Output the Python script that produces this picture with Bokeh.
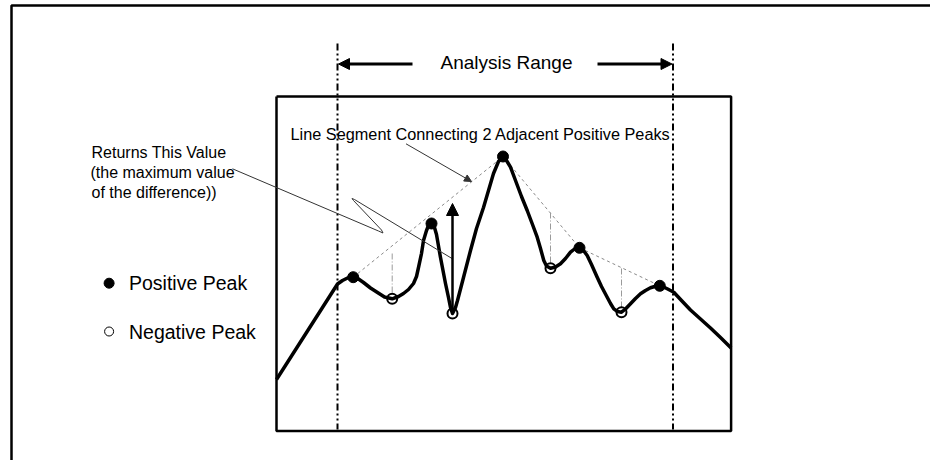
from bokeh.plotting import figure
from bokeh.models import Range1d, Arrow, NormalHead
from bokeh.core.properties import value
from bokeh.embed import file_html
from bokeh.resources import INLINE

# ---- data (diagram coordinates, y grows downward) ----
curve_x = [276, 337, 342, 347, 352.7, 358, 363, 370, 377, 384, 391.7, 398, 403, 408, 413, 416, 418,
           421, 423, 426, 428, 431, 434, 436, 440, 445, 448, 450, 452, 455, 457, 463, 470, 476, 483,
           488, 493, 498, 502.5, 506, 510, 515, 521, 526.7, 532, 536.7, 540, 543.3, 546, 550, 555,
           560, 565, 570, 574, 579, 583, 586.7, 591, 596.7, 601, 606.7, 610, 613.3, 617, 621, 625,
           630, 635, 640, 645, 650, 655, 659.3, 663, 666.7, 673.3, 681, 690, 700, 710, 720, 730.6]
curve_y = [379, 283.5, 280, 277.5, 276.7, 278.5, 282, 287.5, 292, 296.5, 298.3, 296, 293, 289, 283,
           276, 267, 253, 240, 230, 225, 223, 227, 234, 257, 283, 297, 307, 313, 307, 300, 277, 250,
           228, 207, 190, 173, 161, 156, 160, 166.7, 180, 196, 210, 224, 236.7, 248, 260, 265.5,
           267.7, 266.5, 263.3, 258, 251.7, 248.5, 247.3, 250, 255, 264, 276.7, 286, 296.7, 303,
           308.3, 311, 311.7, 308.5, 303.3, 298, 293.3, 290, 287.3, 285.8, 285.3, 286.5, 288.3,
           291.7, 300, 309.5, 318.5, 327.5, 337, 347.5]

peak_x = [352.7, 431, 502.5, 579, 659.3]
peak_y = [276.7, 223, 156, 247.3, 285.3]
valley_x = [391.7, 452, 550, 621]
valley_y = [298.3, 313, 267.7, 311.7]

hull_x = [352.7, 502.5, 579, 659.3]
hull_y = [276.7, 156, 247.3, 285.3]

diff_x = [391.7, 550, 621]
diff_top = [253, 212, 268]
diff_bottom = [293, 263, 307]

max_diff_x = 452
max_diff_from = 313
max_diff_to = 203

range_x = [337, 672.5]
range_top = 43
range_bottom = 429
range_arrow_y = 63.5
range_arrow_inner = [412, 597]

box_left, box_right, box_top, box_bottom = 276, 730.6, 96, 430.5

leader_x = [232, 378, 382.5, 381, 353, 351.5, 354, 452]
leader_y = [168.3, 230.5, 232.5, 229.5, 200, 198, 199, 258.3]
pointer_from = (405.5, 143.3)
pointer_to = (471, 181)

texts = ["Analysis Range", "Line Segment Connecting 2 Adjacent Positive Peaks",
         "Returns This Value", "(the maximum value", "of the difference))",
         "Positive Peak", "Negative Peak"]
legend_y = [282.7, 331]

FONT = value("Liberation Sans")

p = figure(width=930, height=460, output_backend="svg", toolbar_location=None,
           x_range=Range1d(0, 930), y_range=Range1d(460, 0),
           min_border=0, background_fill_color="white", border_fill_color="white")
p.axis.visible = False
p.grid.visible = False
p.outline_line_color = None

# outer frame (only left and top visible)
p.line([11, 11, 946], [476, 5, 5], line_color="black", line_width=2.5)

# inner box
p.line([box_left, box_right, box_right, box_left, box_left],
       [box_top, box_top, box_bottom, box_bottom, box_top], line_color="black", line_width=2.5)

# analysis range dash-dot lines
p.multi_line([[range_x[0]] * 2, [range_x[1]] * 2], [[range_top, range_bottom]] * 2,
             line_color="black", line_width=2, line_dash="7 3 2 3 2 3")

# hull dashed line
p.line(hull_x, hull_y, line_color="#8a8a8a", line_width=1, line_dash="3 3")

# vertical difference lines
p.multi_line([[x, x] for x in diff_x], [[t, b] for t, b in zip(diff_top, diff_bottom)],
             line_color="#9a9a9a", line_width=1, line_dash="6 2 1 2")

# curve
p.line(curve_x, curve_y, line_color="black", line_width=3.5, line_join="round")

# markers
p.scatter(peak_x, peak_y, size=11, fill_color="black", line_color="black")
p.scatter(valley_x, valley_y, size=10, fill_color=None, line_color="black", line_width=2)

# max difference arrow
p.add_layout(Arrow(x_start=max_diff_x, y_start=max_diff_from, x_end=max_diff_x, y_end=max_diff_to,
                   line_width=2.5, line_color="black",
                   end=NormalHead(size=12, fill_color="black", line_color="black")))

# analysis range arrows
p.add_layout(Arrow(x_start=range_arrow_inner[0], y_start=range_arrow_y, x_end=range_x[0] + 1,
                   y_end=range_arrow_y, line_width=3, line_color="black",
                   end=NormalHead(size=11, fill_color="black", line_color="black")))
p.add_layout(Arrow(x_start=range_arrow_inner[1], y_start=range_arrow_y, x_end=range_x[1] - 1,
                   y_end=range_arrow_y, line_width=3, line_color="black",
                   end=NormalHead(size=11, fill_color="black", line_color="black")))

# leader lines
p.line(leader_x, leader_y, line_color="#333333", line_width=1)
p.add_layout(Arrow(x_start=pointer_from[0], y_start=pointer_from[1], x_end=pointer_to[0],
                   y_end=pointer_to[1], line_width=1, line_color="#333333",
                   end=NormalHead(size=7, fill_color="#333333", line_color="#333333")))

# texts
p.text([506], [62], text=[texts[0]], text_font=FONT, text_font_size="19px",
       text_align="center", text_baseline="middle", text_color="black")
p.text([290], [133], text=[texts[1]], text_font=FONT, text_font_size="16.3px",
       text_align="left", text_baseline="middle", text_color="black")
p.text([91, 90, 91], [152, 172, 192], text=texts[2:5], text_font=FONT, text_font_size="16px",
       text_align="left", text_baseline="middle", text_color="black")
p.text([128.5, 128.5], legend_y, text=texts[5:7], text_font=FONT, text_font_size="19.5px",
       text_align="left", text_baseline="middle", text_color="black")

# legend markers
p.scatter([108.6], [legend_y[0]], size=10, fill_color="black", line_color="black")
p.scatter([108.6], [legend_y[1]], size=9, fill_color="white", line_color="black", line_width=1)

open("out.html", "w").write(file_html(p, INLINE))
